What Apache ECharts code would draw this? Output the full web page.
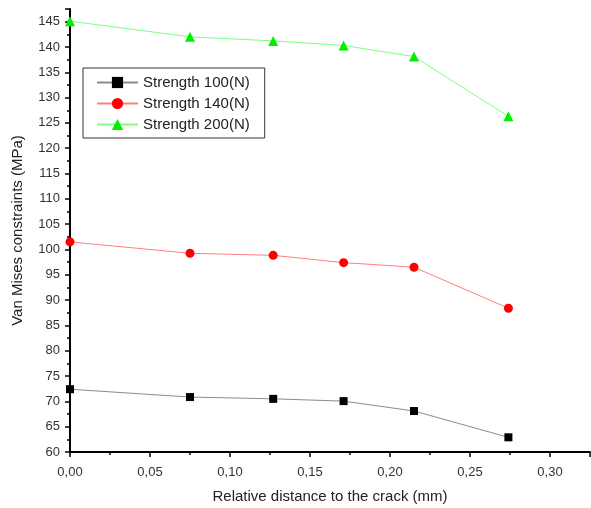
<!DOCTYPE html>
<html>
<head>
<meta charset="utf-8">
<script src="https://cdn.jsdelivr.net/npm/echarts@6/dist/echarts.min.js"></script>
<style>
html,body{margin:0;padding:0;background:#fff;}
#chart{width:591px;height:508px;}
</style>
</head>
<body>
<div id="chart"></div>
<script>
const distances = [0, 0.075, 0.127, 0.171, 0.215, 0.274];
const strength100 = [72.4, 70.85, 70.5, 70.05, 68.1, 62.9];
const strength140 = [101.5, 99.25, 98.85, 97.4, 96.5, 88.4];
const strength200 = [145.1, 142.0, 141.2, 140.3, 138.1, 126.3];
const seriesNames = ['Strength 100(N)', 'Strength 140(N)', 'Strength 200(N)'];

const FONT = '"Liberation Sans", Arial, sans-serif';
function pairs(vals){ return distances.map((d,i)=>[d, vals[i]]); }

const chart = echarts.init(document.getElementById('chart'), null, {renderer:'canvas'});
chart.setOption({
  animation:false,
  backgroundColor:'#fff',
  grid:{left:70, right:1, top:9, bottom:56, containLabel:false, outerBoundsMode:'none'},
  legend:{
    orient:'vertical', left:83, top:68,
    padding:[7,15,6,13], itemGap:6, itemWidth:41, itemHeight:14,
    borderColor:'#333', borderWidth:1,
    textStyle:{fontFamily:FONT, fontSize:15, lineHeight:14, color:'#222'},
    data:seriesNames
  },
  xAxis:{
    type:'value', min:0, max:0.325, interval:0.05,
    name:'Relative distance to the crack (mm)', nameLocation:'middle', nameGap:37,
    nameTextStyle:{fontFamily:FONT, fontSize:15, color:'#222'},
    axisLine:{lineStyle:{color:'#000', width:2}},
    axisTick:{length:5, lineStyle:{color:'#000', width:1.5}},
    minorTick:{show:true, splitNumber:2, length:3, lineStyle:{color:'#000', width:1.5}},
    splitLine:{show:false},
    axisLabel:{fontFamily:FONT, fontSize:13, color:'#333', margin:14,
      formatter:function(v){ const r=Math.round(v*100); return (r%5===0)? (v.toFixed(2).replace('.',',')) : ''; }}
  },
  yAxis:{
    type:'value', min:60, max:147.5, interval:5,
    name:'Van Mises constraints (MPa)', nameLocation:'middle', nameGap:45,
    nameTextStyle:{fontFamily:FONT, fontSize:15, color:'#222'},
    axisLine:{lineStyle:{color:'#000', width:2}},
    axisTick:{length:5, lineStyle:{color:'#000', width:1.5}},
    minorTick:{show:true, splitNumber:2, length:3, lineStyle:{color:'#000', width:1.5}},
    splitLine:{show:false},
    axisLabel:{fontFamily:FONT, fontSize:13, color:'#333', margin:10,
      formatter:function(v){ return (v%5===0)? String(v) : ''; }}
  },
  series:[
    {name:seriesNames[0], type:'line', data:pairs(strength100), symbol:'rect', symbolSize:8,
     itemStyle:{color:'#000'}, lineStyle:{color:'#8c8c8c', width:1}},
    {name:seriesNames[1], type:'line', data:pairs(strength140), symbol:'circle', symbolSize:9,
     itemStyle:{color:'#ff0000'}, lineStyle:{color:'#ff8080', width:1}},
    {name:seriesNames[2], type:'line', data:pairs(strength200), symbol:'triangle', symbolSize:10,
     itemStyle:{color:'#00ee00'}, lineStyle:{color:'#80ff80', width:1}}
  ]
});
</script>
</body>
</html>
